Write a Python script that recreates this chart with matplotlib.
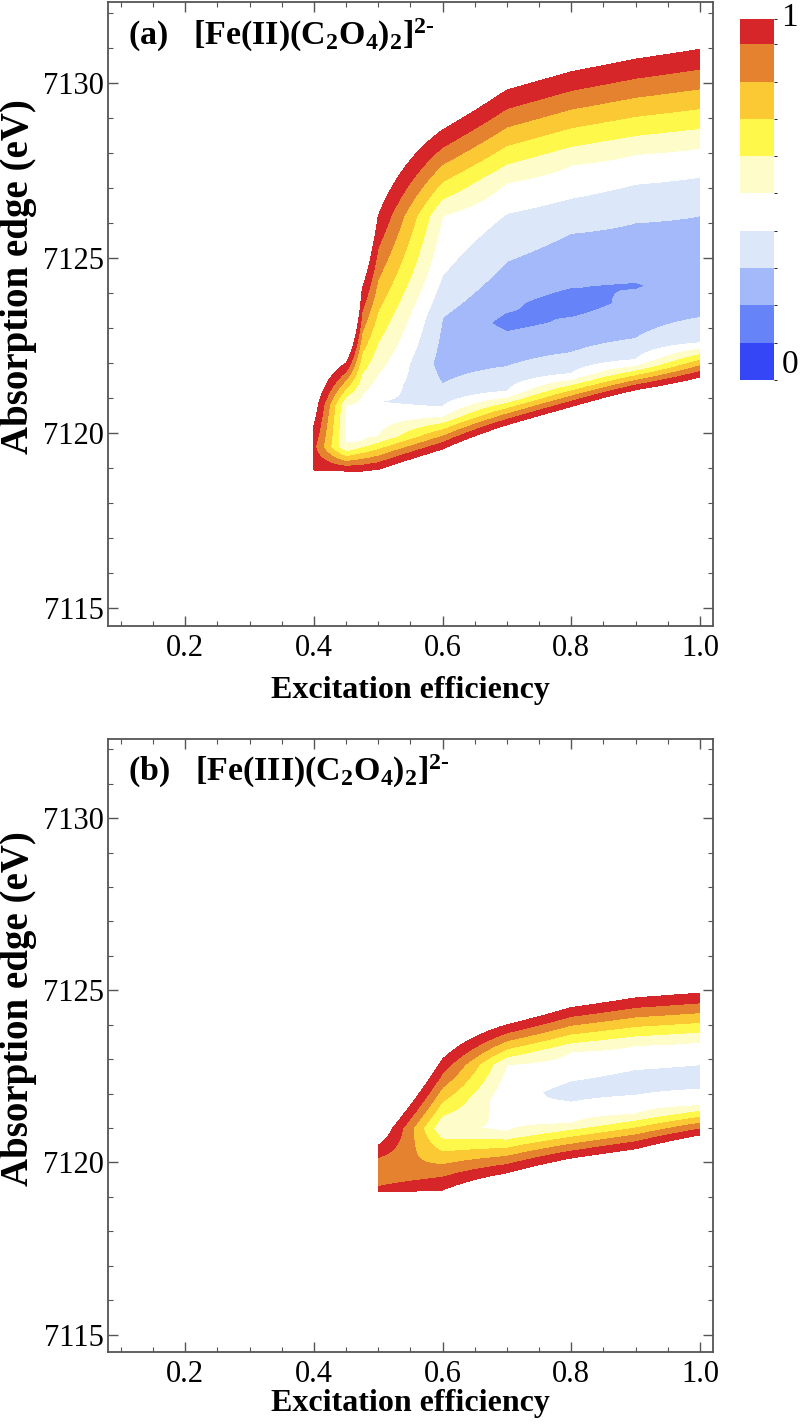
import matplotlib

matplotlib.use("Agg")
import matplotlib.pyplot as plt
import numpy as np
from matplotlib.cm import ScalarMappable
from matplotlib.colors import BoundaryNorm, ListedColormap
from matplotlib.ticker import FormatStrFormatter, MultipleLocator

plt.rcParams["font.family"] = ["Liberation Serif", "DejaVu Serif"]
plt.rcParams["mathtext.fontset"] = "custom"
plt.rcParams["mathtext.rm"] = "Liberation Serif:bold"
plt.rcParams["mathtext.it"] = "Liberation Serif:bold"
plt.rcParams["mathtext.bf"] = "Liberation Serif:bold"

NAN = np.nan

# columns of the fit grid (excitation efficiency)
EFFICIENCY = [0.4, 0.45, 0.475, 0.5, 0.6, 0.7, 0.8, 0.9, 1.0]

# contour levels and band colours (low -> high)
LEVELS = [0.0, 0.1, 0.2, 0.3, 0.4, 0.5, 0.6, 0.7, 0.8, 0.9, 1.0]
BAND_COLORS = ["#3446f5", "#6684f7", "#a3b9fa", "#dde7fa", "#ffffff",
               "#fefcc9", "#fdf84a", "#fbc934", "#e5822f", "#d6262a"]
COLORBAR_BOUNDS = [0.0, 0.1, 0.2, 0.3, 0.4, 0.5, 0.6, 0.7, 0.8, 0.9, 0.967]

# (a) Fe(II): absorption edge (eV) where the map crosses each level, per column
FE2_EDGE_LO = [7118.95, 7118.92, 7118.92, 7118.97, 7119.55, 7120.24, 7120.76, 7121.24, 7121.6]
FE2_EDGE_HI = [7120.2, 7122.0, 7124.1, 7126.2, 7128.65, 7129.79, 7130.31, 7130.67, 7130.95]
FE2_HALF_LO = [NAN, 7119.6, 7119.75, 7119.9, 7120.45, 7121.0, 7121.5, 7121.9, 7122.4]
FE2_HALF_HI = [NAN, 7120.8, 7121.1, 7121.7, 7126.2, 7127.15, 7127.65, 7127.95, 7128.13]
FE2_P4_LO = [NAN, NAN, NAN, NAN, 7120.75, 7121.2, 7121.7, 7122.1, 7122.58]
FE2_P4_HI = [NAN, NAN, NAN, NAN, 7124.5, 7126.27, 7126.7, 7127.1, 7127.3]
FE2_P3_LO = [NAN, NAN, NAN, NAN, 7121.4, 7121.9, 7122.3, 7122.7, 7123.3]
FE2_P3_HI = [NAN, NAN, NAN, NAN, 7123.3, 7124.9, 7125.7, 7126.0, 7126.2]
FE2_P2_LO = [NAN, NAN, NAN, NAN, NAN, 7122.9, 7123.3, 7124.1, NAN]
FE2_P2_HI = [NAN, NAN, NAN, NAN, NAN, 7123.45, 7124.15, 7124.3, NAN]
FE2_MIN_E = [7119.6, 7120.2, 7120.4, 7120.9, 7122.0, 7123.15, 7123.7, 7124.2, 7124.6]
FE2_MIN_Z = [0.92, 0.49, 0.43, 0.40, 0.26, 0.17, 0.15, 0.192, 0.22]

# (b) Fe(III)
FE3_EDGE_LO = [NAN, NAN, NAN, 7119.15, 7119.2, 7119.7, 7120.13, 7120.4, 7120.8]
FE3_EDGE_HI = [NAN, NAN, NAN, 7120.5, 7123.0, 7124.0, 7124.5, 7124.78, 7124.92]
FE3_P9_LO = [NAN, NAN, NAN, 7119.3, NAN, NAN, NAN, NAN, NAN]
FE3_HALF_LO = [NAN, NAN, NAN, NAN, NAN, 7120.89, 7121.13, 7121.4, 7121.65]
FE3_HALF_HI = [NAN, NAN, NAN, NAN, NAN, 7122.84, 7123.22, 7123.4, 7123.5]
FE3_P4_LO = [NAN, NAN, NAN, NAN, NAN, NAN, 7121.75, 7121.95, 7122.13]
FE3_P4_HI = [NAN, NAN, NAN, NAN, NAN, NAN, 7122.37, 7122.7, 7122.84]
FE3_MIN_E = [NAN, NAN, NAN, 7119.8, 7121.0, 7121.85, 7122.05, 7122.3, 7122.5]
FE3_MIN_Z = [NAN, NAN, NAN, 0.80, 0.51, 0.42, 0.37, 0.36, 0.36]

X_TICKS = [0.2, 0.4, 0.6, 0.8, 1.0]
Y_TICKS = [7115, 7120, 7125, 7130]

ENERGY_GRID = np.arange(7114.0, 7133.0, 0.02)
FRAME = "#555555"
ALL_NAN = [NAN] * len(EFFICIENCY)


def build_field(edge_lo, edge_hi, min_e, min_z, crossings):
    cols = []
    for i in range(len(EFFICIENCY)):
        if np.isnan(edge_lo[i]):
            # no fit result in this column
            cols.append(np.full_like(ENERGY_GRID, np.nan))
            continue
        knots = [(edge_lo[i], 1.0), (edge_hi[i], 1.0), (min_e[i], min_z[i])]
        for level, lo, hi in crossings:
            if not np.isnan(lo[i]):
                knots.append((lo[i], level))
            if not np.isnan(hi[i]):
                knots.append((hi[i], level))
        knots.sort()
        e, z = [list(v) for v in zip(*knots)]
        # carry the outer slopes on past the edges
        s_lo = (z[1] - z[0]) / (e[1] - e[0])
        s_hi = (z[-1] - z[-2]) / (e[-1] - e[-2])
        e0, e1 = ENERGY_GRID[0], ENERGY_GRID[-1]
        e = [e0] + e + [e1]
        z = [z[0] + s_lo * (e0 - e[1])] + z + [z[-1] + s_hi * (e1 - e[-2])]
        cols.append(np.interp(ENERGY_GRID, e, z))
    return np.ma.masked_invalid(np.column_stack(cols))


def draw_panel(ax, field, title, labelpad):
    ax.contourf(EFFICIENCY, ENERGY_GRID, field, levels=LEVELS, colors=BAND_COLORS)
    ax.set_xlim(0.08, 1.02)
    ax.set_ylim(7114.5, 7132.3)
    ax.set_xticks(X_TICKS)
    ax.set_yticks(Y_TICKS)
    ax.xaxis.set_major_formatter(FormatStrFormatter("%.1f"))
    ax.xaxis.set_minor_locator(MultipleLocator(0.05))
    ax.yaxis.set_minor_locator(MultipleLocator(1))
    ax.tick_params(which="both", direction="in", top=True, right=True, color=FRAME)
    ax.tick_params(which="major", length=7, width=1.0, labelsize=22)
    ax.tick_params(axis="x", which="major", pad=6)
    ax.tick_params(axis="y", which="major", pad=3)
    ax.tick_params(which="minor", length=3.5, width=0.8)
    for sp in ax.spines.values():
        sp.set_color(FRAME)
        sp.set_linewidth(1.3)
    ax.set_xlabel("Excitation efficiency", fontsize=23, fontweight="bold", labelpad=labelpad)
    ax.set_ylabel("Absorption edge (eV)", fontsize=28, fontweight="bold")
    ax.yaxis.set_label_coords(-0.118, 0.56)
    ax.text(0.033, 0.947, title, transform=ax.transAxes, fontsize=24.5,
            fontweight="bold", va="center", ha="left")


def main():
    fig = plt.figure(figsize=(8, 14.26), dpi=100)
    ax_a = fig.add_axes([0.135, 0.561, 0.756, 0.4376])
    ax_b = fig.add_axes([0.135, 0.052, 0.756, 0.4298])

    fe2 = build_field(FE2_EDGE_LO, FE2_EDGE_HI, FE2_MIN_E, FE2_MIN_Z,
                      [(0.5, FE2_HALF_LO, FE2_HALF_HI), (0.4, FE2_P4_LO, FE2_P4_HI),
                       (0.3, FE2_P3_LO, FE2_P3_HI), (0.2, FE2_P2_LO, FE2_P2_HI)])
    fe3 = build_field(FE3_EDGE_LO, FE3_EDGE_HI, FE3_MIN_E, FE3_MIN_Z,
                      [(0.9, FE3_P9_LO, ALL_NAN), (0.5, FE3_HALF_LO, FE3_HALF_HI),
                       (0.4, FE3_P4_LO, FE3_P4_HI)])

    draw_panel(ax_a, fe2, r"(a)   [Fe(II)(C$_2$O$_4$)$_2$]$^{\text{2-}}$", 9)
    draw_panel(ax_b, fe3, r"(b)   [Fe(III)(C$_2$O$_4$)$_2$]$^{\text{2-}}$", 0)

    cax = fig.add_axes([0.925, 0.7335, 0.0425, 0.253])
    norm = BoundaryNorm(COLORBAR_BOUNDS, len(BAND_COLORS))
    sm = ScalarMappable(norm=norm, cmap=ListedColormap(BAND_COLORS))
    cb = fig.colorbar(sm, cax=cax, spacing="proportional")
    cb.outline.set_visible(False)
    cb.set_ticks([])
    fig.text(0.977, 0.9985, "1", fontsize=24, va="top", ha="left")
    fig.text(0.977, 0.7335, "0", fontsize=24, va="bottom", ha="left")

    fig.savefig("out.png", dpi=100)
    plt.close(fig)


if __name__ == "__main__":
    main()
